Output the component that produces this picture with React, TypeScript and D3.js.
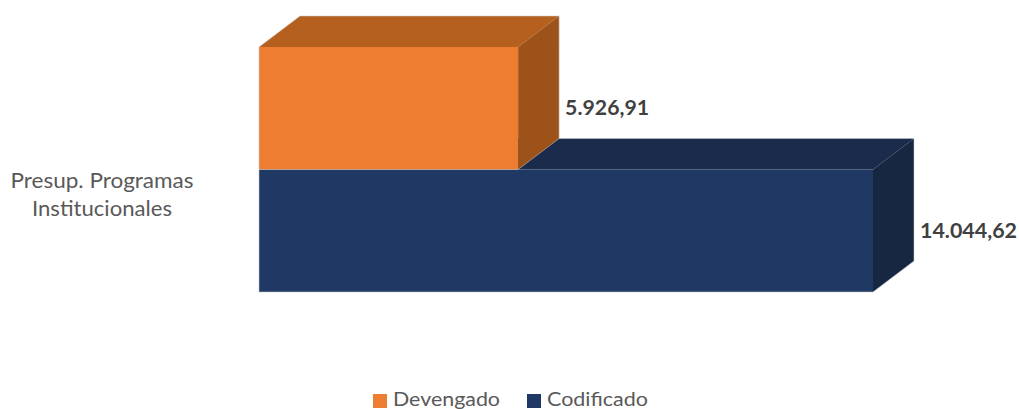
import React from "react";
import * as d3 from "d3";

const category = "Presup. Programas Institucionales";
const categoryLines = ["Presup. Programas", "Institucionales"];
const seriesNames = ["Devengado", "Codificado"];
const seriesValues = [5926.91, 14044.62];
const valueLabels = ["5.926,91", "14.044,62"];

const palette = [
  { front: "#ED7D31", top: "#B5601F", side: "#9C5219" },
  { front: "#203864", top: "#1B2B4B", side: "#172641" },
];

const W = 1019;
const H = 409;
const DX = 41;
const DY = 31;

export default function App() {
  const x = d3.scaleLinear().domain([0, 14044.62]).range([259, 873]);
  const y = d3.scaleBand<string>().domain(seriesNames).range([47, 292]).padding(0);
  const bh = y.bandwidth();

  const bars = seriesNames.map((name, i) => {
    const x0 = x(0);
    const x1 = x(seriesValues[i]);
    const y0 = y(name) as number;
    const y1 = y0 + bh;
    const c = palette[i];
    const front = `M${x0},${y0}L${x1},${y0}L${x1},${y1}L${x0},${y1}Z`;
    const top = `M${x0},${y0}L${x0 + DX},${y0 - DY}L${x1 + DX},${y0 - DY}L${x1},${y0}Z`;
    const side = `M${x1},${y0}L${x1 + DX},${y0 - DY}L${x1 + DX},${y1 - DY}L${x1},${y1}Z`;
    const outline = `M${x0},${y1}L${x0},${y0}L${x0 + DX},${y0 - DY}L${x1 + DX},${y0 - DY}L${x1 + DX},${y1 - DY}L${x1},${y1}Z`;
    return { name, i, x1, y0, y1, c, front, top, side, outline };
  });

  // draw back-most (lower) bar first so the upper bar occludes its top face
  const order = [...bars].reverse();

  return (
    <svg width={W} height={H} style={{ position: "absolute", left: 0, top: 0, background: "#fff" }}>
      {order.map((b) => (
        <g key={b.name}>
          <path d={b.top} fill={b.c.top} />
          <path d={b.side} fill={b.c.side} />
          <path d={b.front} fill={b.c.front} />
          <path d={b.outline} fill="none" stroke="#c9c9c9" strokeWidth={0.8} strokeOpacity={0.7} />
        </g>
      ))}
      {bars.map((b) => (
        <text
          key={"l" + b.name}
          x={b.x1 + DX + 6}
          y={(b.y0 + b.y1) / 2 + 7}
          fontFamily="Lato, 'Open Sans', sans-serif"
          fontWeight={700}
          fontSize={20}
          fill="#404040"
          textLength={b.i === 0 ? 84 : 97}
          lengthAdjust="spacingAndGlyphs"
        >
          {valueLabels[b.i]}
        </text>
      ))}
      <text
        fontFamily="Lato, 'Open Sans', sans-serif"
        fontSize={21}
        fill="#595959"
        textAnchor="middle"
        aria-label={category}
      >
        <tspan x={102} y={188} textLength={183} lengthAdjust="spacingAndGlyphs">{categoryLines[0]}</tspan>
        <tspan x={102} y={216} textLength={140} lengthAdjust="spacingAndGlyphs">{categoryLines[1]}</tspan>
      </text>
      {seriesNames.map((name, i) => {
        const lx = i === 0 ? 373 : 527;
        return (
          <g key={"lg" + name}>
            <rect x={lx} y={394} width={14} height={14} fill={palette[i].front} />
            <text
              x={lx + 20}
              y={406}
              fontFamily="Lato, 'Open Sans', sans-serif"
              fontSize={18.5}
              fill="#595959"
              textLength={i === 0 ? 107 : 101}
              lengthAdjust="spacingAndGlyphs"
            >
              {name}
            </text>
          </g>
        );
      })}
    </svg>
  );
}
